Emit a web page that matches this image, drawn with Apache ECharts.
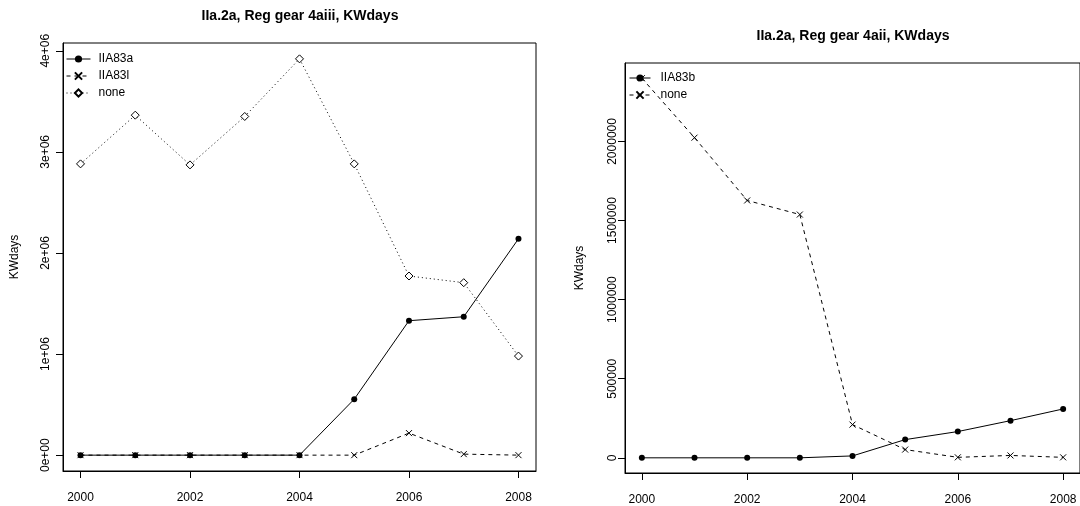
<!DOCTYPE html>
<html>
<head>
<meta charset="utf-8">
<script src="https://cdn.jsdelivr.net/npm/echarts@6/dist/echarts.min.js"></script>
<style>
html,body{margin:0;padding:0;background:#fff;}
#chart{width:1080px;height:506px;}
</style>
</head>
<body>
<div id="chart"></div>
<script>
// ---- data ----
const years = [2000, 2001, 2002, 2003, 2004, 2005, 2006, 2007, 2008];
// left panel: IIa.2a, Reg gear 4aiii
const leftIIA83a = [0, 0, 0, 0, 0, 554000, 1330000, 1369000, 2140000];
const leftIIA83l = [0, 0, 0, 0, 0, 0, 218000, 10000, 0];
const leftNone   = [2881000, 3363000, 2871000, 3350000, 3920000, 2881000, 1772000, 1706000, 980000];
// right panel: IIa.2a, Reg gear 4aii
const rightIIA83b = [0, 0, 0, 0, 12000, 115000, 166000, 235000, 309000];
const rightNone   = [2400000, 2024000, 1627000, 1538000, 210000, 52000, 3000, 15000, 3000];
// ticks
const xTicks = [2000, 2002, 2004, 2006, 2008];
const leftYTicks = [0, 1000000, 2000000, 3000000, 4000000];
const leftYTickLabels = ['0e+00', '1e+06', '2e+06', '3e+06', '4e+06'];
const rightYTicks = [0, 500000, 1000000, 1500000, 2000000];
const rightYTickLabels = ['0', '500000', '1000000', '1500000', '2000000'];
const titles = ['IIa.2a, Reg gear 4aiii, KWdays', 'IIa.2a, Reg gear 4aii, KWdays'];
const yName = 'KWdays';
const legendNames = {
  'IIA83a': 'IIA83a', 'IIA83l': 'IIA83l', 'none_l': 'none',
  'IIA83b': 'IIA83b', 'none_r': 'none'
};

// ---- helpers ----
const FONT = "'Liberation Sans', Arial, Helvetica, sans-serif";
const pairs = (vals) => years.map((y, i) => [y, vals[i]]);
function rRange(arr) { // R-style 4% padding
  const mn = Math.min.apply(null, arr), mx = Math.max.apply(null, arr);
  const d = (mx - mn) * 0.04;
  return [mn - d, mx + d];
}
const xr = rRange(years);
const lyr = rRange(leftIIA83a.concat(leftIIA83l, leftNone));
const ryr = rRange(rightIIA83b.concat(rightNone));
const CROSS = 'path://M0,0L10,10M0,10L10,0';

function xAxisCfg(gi) {
  return {
    type: 'value', gridIndex: gi, min: xr[0], max: xr[1],
    axisLine: { show: true, onZero: false, lineStyle: { color: '#000', width: 1 } },
    axisTick: { show: true, length: 7, customValues: xTicks, lineStyle: { color: '#000' } },
    axisLabel: { customValues: xTicks, margin: 21, fontSize: 12, color: '#000', fontFamily: FONT,
      formatter: v => String(Math.round(v)) },
    splitLine: { show: false }
  };
}
function yAxisCfg(gi, rng, ticks, labels, margin, gap) {
  return {
    type: 'value', gridIndex: gi, min: rng[0], max: rng[1],
    name: yName, nameLocation: 'middle', nameRotate: 90, nameGap: gap,
    nameTextStyle: { fontSize: 12, color: '#000', fontFamily: FONT },
    axisLine: { show: true, onZero: false, lineStyle: { color: '#000', width: 1 } },
    axisTick: { show: true, length: 7, customValues: ticks, lineStyle: { color: '#000' } },
    axisLabel: { customValues: ticks, rotate: 90, margin: margin, fontSize: 12, color: '#000', fontFamily: FONT,
      formatter: v => { const i = ticks.indexOf(Math.round(v)); return i >= 0 ? labels[i] : ''; } },
    splitLine: { show: false }
  };
}
function lineSeries(name, gi, vals, symbol, size, itemStyle, lineType) {
  return {
    name: name, type: 'line', xAxisIndex: gi, yAxisIndex: gi,
    data: pairs(vals), symbol: symbol, symbolSize: size,
    itemStyle: itemStyle,
    lineStyle: { color: '#000', width: 1, type: lineType },
    emphasis: { disabled: true }, silent: true
  };
}
const dotStyle = { color: '#000' };
const crossStyle = { color: '#000', borderColor: '#000', borderWidth: 1 };
const diamondStyle = { color: '#fff', borderColor: '#000', borderWidth: 1 };

const chart = echarts.init(document.getElementById('chart'), null, { renderer: 'canvas' });
chart.setOption({
  animation: false,
  backgroundColor: '#fff',
  textStyle: { fontFamily: FONT },
  title: [
    { text: titles[0], left: 300, top: 9, textAlign: 'center', padding: 0,
      textStyle: { fontSize: 14, fontWeight: 'bold', color: '#000', fontFamily: FONT } },
    { text: titles[1], left: 853, top: 29, textAlign: 'center', padding: 0,
      textStyle: { fontSize: 14, fontWeight: 'bold', color: '#000', fontFamily: FONT } }
  ],
  grid: [
    { left: 63, top: 43, width: 473, height: 428, show: true, borderColor: '#000', borderWidth: 1, backgroundColor: 'transparent' },
    { left: 625, top: 63, width: 458, height: 411, show: true, borderColor: '#000', borderWidth: 1, backgroundColor: 'transparent' }
  ],
  xAxis: [xAxisCfg(0), xAxisCfg(1)],
  yAxis: [
    yAxisCfg(0, lyr, leftYTicks, leftYTickLabels, 11, 42),
    yAxisCfg(1, ryr, rightYTicks, rightYTickLabels, 6, 39)
  ],
  legend: [
    { data: ['IIA83a', 'IIA83l', 'none_l'], orient: 'vertical', left: 66, top: 53, padding: 0,
      itemWidth: 24, itemHeight: 9, itemGap: 5, selectedMode: false,
      lineStyle: { width: 1 },
      formatter: n => legendNames[n],
      textStyle: { fontSize: 12, color: '#000', fontFamily: FONT, lineHeight: 10, padding: [0, 0, 0, 3] } },
    { data: ['IIA83b', 'none_r'], orient: 'vertical', left: 629, top: 72, padding: 0,
      itemWidth: 21, itemHeight: 9, itemGap: 5, selectedMode: false,
      lineStyle: { width: 1 },
      formatter: n => legendNames[n],
      textStyle: { fontSize: 12, color: '#000', fontFamily: FONT, lineHeight: 10, padding: [0, 0, 0, 5] } }
  ],
  series: [
    lineSeries('IIA83a', 0, leftIIA83a, 'circle', 6, dotStyle, 'solid'),
    lineSeries('IIA83l', 0, leftIIA83l, CROSS, 6, crossStyle, [4, 4]),
    lineSeries('none_l', 0, leftNone, 'diamond', 8, diamondStyle, [1, 3]),
    lineSeries('IIA83b', 1, rightIIA83b, 'circle', 6, dotStyle, 'solid'),
    lineSeries('none_r', 1, rightNone, CROSS, 6, crossStyle, [4, 4])
  ]
});
</script>
</body>
</html>
